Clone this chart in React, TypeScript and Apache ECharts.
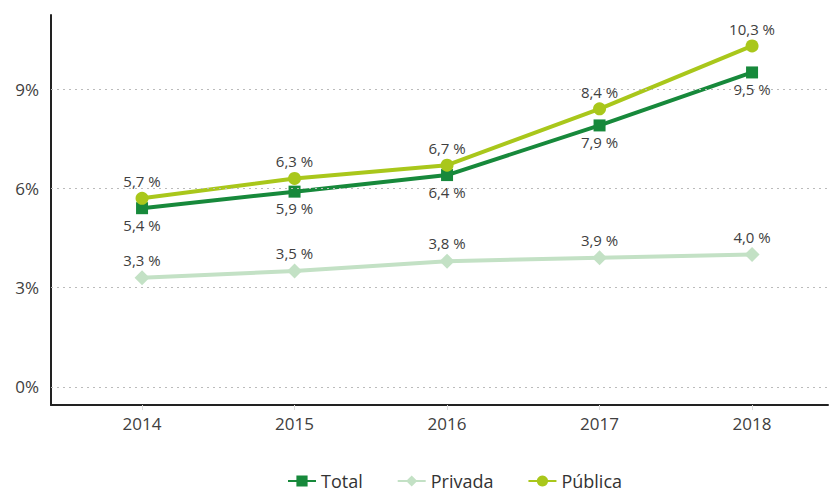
import React, { useEffect, useRef } from "react";
import * as echarts from "echarts";

const years = [2014, 2015, 2016, 2017, 2018];
const total = [5.4, 5.9, 6.4, 7.9, 9.5];
const privada = [3.3, 3.5, 3.8, 3.9, 4.0];
const publica = [5.7, 6.3, 6.7, 8.4, 10.3];
const yTicks = [0, 3, 6, 9];

const FONT = "'Open Sans', 'Noto Sans', sans-serif";
const fmt = (v: number) => v.toFixed(1).replace(".", ",") + " %";

export default function App() {
  const ref = useRef<HTMLDivElement>(null);
  useEffect(() => {
    if (!ref.current) return;
    const chart = echarts.init(ref.current, null, { renderer: "svg" });
    const pts = (arr: number[]) => years.map((y, i) => [y, arr[i]]);
    const label = (pos: string) => ({
      show: true,
      position: pos,
      distance: 3,
      color: "#404040",
      fontSize: 15,
      fontFamily: FONT,
      formatter: (p: any) => fmt(p.value[1]),
    });
    chart.setOption({
      animation: false,
      textStyle: { fontFamily: FONT },
      grid: { left: 51, right: 2, top: 15, bottom: 88 },
      xAxis: {
        type: "value",
        min: 2013.403,
        max: 2018.498,
        splitLine: { show: false },
        axisTick: {
          show: true,
          customValues: years,
          length: 5,
          lineStyle: { color: "#ddd", width: 1 },
        },
        axisLine: { show: true, onZero: false, lineStyle: { color: "#222", width: 2 } },
        axisLabel: {
          customValues: years,
          formatter: (v: number) => String(v),
          color: "#404040",
          fontSize: 17,
          fontFamily: FONT,
          margin: 10,
        },
      },
      yAxis: {
        type: "value",
        min: -0.544,
        max: 11.235,
        splitLine: { show: false },
        axisTick: { show: false },
        axisLine: { show: true, onZero: false, lineStyle: { color: "#222", width: 2 } },
        axisLabel: {
          customValues: yTicks,
          formatter: (v: number) => v + "%",
          color: "#404040",
          fontSize: 17,
          fontFamily: FONT,
          margin: 12,
        },
      },
      legend: {
        top: 467,
        left: 282,
        itemWidth: 28,
        itemHeight: 14,
        itemGap: 34,
        textStyle: { color: "#333", fontSize: 18, fontFamily: FONT },
        data: ["Total", "Privada", "Pública"],
      },
      series: [
        {
          name: "Privada",
          type: "line",
          data: pts(privada),
          symbol: "diamond",
          symbolSize: 15,
          itemStyle: { color: "#c3e1c5" },
          lineStyle: { color: "#c3e1c5", width: 4 },
          label: label("top"),
          markLine: {
            silent: true,
            symbol: "none",
            label: { show: false },
            lineStyle: { color: "#bbb", type: [2, 4], width: 1 },
            data: yTicks.map((t) => ({ yAxis: t })),
          },
        },
        {
          name: "Total",
          type: "line",
          data: pts(total),
          symbol: "rect",
          symbolSize: 12,
          itemStyle: { color: "#17893b" },
          lineStyle: { color: "#17893b", width: 4 },
          label: label("bottom"),
        },
        {
          name: "Pública",
          type: "line",
          data: pts(publica),
          symbol: "circle",
          symbolSize: 13,
          itemStyle: { color: "#a9c71b" },
          lineStyle: { color: "#a9c71b", width: 4 },
          label: label("top"),
        },
      ],
    });
    return () => chart.dispose();
  }, []);
  return (
    <div
      ref={ref}
      style={{ position: "fixed", left: 0, top: 0, width: 830, height: 493, background: "#fff" }}
    />
  );
}
